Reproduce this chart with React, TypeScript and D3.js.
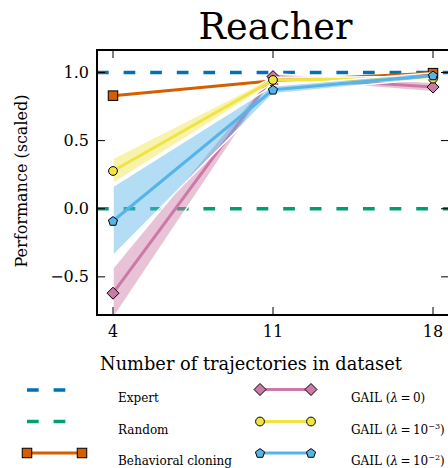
import React from "react";
import * as d3 from "d3";

const xsVals = [4, 11, 18];
const xTicks = [4, 11, 18];
const yTicks = [-0.5, 0.0, 0.5, 1.0];
const expertVal = 1.0;
const randomVal = 0.0;
const bcVals = [0.83, 0.94, 0.995];
const gail0Vals = [-0.62, 0.97, 0.893];
const gail0Err = [0.185, 0.02, 0.035];
const gail3Vals = [0.277, 0.945, 0.955];
const gail3Err = [0.092, 0.02, 0.015];
const gail2Vals = [-0.09, 0.873, 0.978];
const gail2Err = [0.255, 0.03, 0.02];

const W = 448, H = 468;
const L = 97, R = 449, T = 50, B = 315;
const FONT = "'DejaVu Serif', serif";

const C_EXP = "#0072B2";
const C_RAND = "#009E73";
const C_BC = "#D55E00";
const C_G0 = "#CC79A7";
const C_G3 = "#F0E442";
const C_G2 = "#56B4E9";

const x = d3.scaleLinear().domain([3.3, 18.7]).range([L, R]);
const y = d3.scaleLinear().domain([-0.78, 1.165]).range([B, T]);

const line = d3.line<[number, number]>().x(d => x(d[0])).y(d => y(d[1]));
const area = d3.area<[number, number, number]>().x(d => x(d[0])).y0(d => y(d[1] - d[2])).y1(d => y(d[1] + d[2]));

function Marker({ type, cx, cy, color }: { type: string; cx: number; cy: number; color: string }) {
  const st = { fill: color, stroke: "#000", strokeWidth: 1 };
  if (type === "s") return <rect x={cx - 4.75} y={cy - 4.75} width={9.5} height={9.5} {...st} />;
  if (type === "o") return <circle cx={cx} cy={cy} r={4.4} {...st} />;
  if (type === "D") return <path d={`M${cx},${cy - 6}L${cx + 6},${cy}L${cx},${cy + 6}L${cx - 6},${cy}Z`} {...st} />;
  const pts = d3.range(5).map(i => {
    const a = -Math.PI / 2 + (i * 2 * Math.PI) / 5;
    return [cx + 4.8 * Math.cos(a), cy + 4.8 * Math.sin(a) + 0.4];
  });
  return <path d={"M" + pts.map(p => p.join(",")).join("L") + "Z"} {...st} />;
}

function Series({ vals, err, color, marker }: { vals: number[]; err?: number[]; color: string; marker: string }) {
  const pts = xsVals.map((v, i) => [v, vals[i]] as [number, number]);
  return (
    <g>
      {err && (
        <path
          d={area(xsVals.map((v, i) => [v, vals[i], err[i]] as [number, number, number])) || ""}
          fill={color}
          fillOpacity={0.45}
          stroke="#fff"
          strokeWidth={1.5}
        />
      )}
      <path d={line(pts) || ""} fill="none" stroke={color} strokeWidth={3} />
      {pts.map((p, i) => (
        <Marker key={i} type={marker} cx={x(p[0])} cy={y(p[1])} color={color} />
      ))}
    </g>
  );
}

const dash = "11.7 14.9";

export default function App() {
  const legendText = { fontFamily: FONT, fontSize: 12, fill: "#000" } as const;
  return (
    <svg width={W} height={H} style={{ position: "absolute", left: 0, top: 0, background: "#fff" }}>
      <rect width={W} height={H} fill="#fff" />
      <defs>
        <clipPath id="plot">
          <rect x={L} y={T} width={R - L} height={B - T} />
        </clipPath>
      </defs>
      <text x={275.5} y={38.5} textAnchor="middle" fontFamily={FONT} fontSize={36.5}>Reacher</text>
      <g clipPath="url(#plot)">
        <line x1={L} x2={R} y1={y(expertVal)} y2={y(expertVal)} stroke={C_EXP} strokeWidth={3.5} strokeDasharray={dash} />
        <line x1={L} x2={R} y1={y(randomVal)} y2={y(randomVal)} stroke={C_RAND} strokeWidth={3.5} strokeDasharray={dash} />
        <Series vals={bcVals} color={C_BC} marker="s" />
        <Series vals={gail0Vals} err={gail0Err} color={C_G0} marker="D" />
        <Series vals={gail3Vals} err={gail3Err} color={C_G3} marker="o" />
        <Series vals={gail2Vals} err={gail2Err} color={C_G2} marker="p" />
      </g>
      {xTicks.map(t => (
        <g key={"xt" + t}>
          <line x1={x(t)} x2={x(t)} y1={B} y2={B - 8} stroke="#000" strokeWidth={1} />
          <line x1={x(t)} x2={x(t)} y1={T} y2={T + 8} stroke="#000" strokeWidth={1} />
          <text x={x(t)} y={337} textAnchor="middle" fontFamily={FONT} fontSize={16}>{t}</text>
        </g>
      ))}
      {yTicks.map(t => (
        <g key={"yt" + t}>
          <line x1={L} x2={L + 8} y1={y(t)} y2={y(t)} stroke="#000" strokeWidth={1} />
          <line x1={R} x2={R - 8} y1={y(t)} y2={y(t)} stroke="#000" strokeWidth={1} />
          <text x={89} y={y(t) + 5.5} textAnchor="end" fontFamily={FONT} fontSize={16}>
            {t < 0 ? "\u2212" + Math.abs(t).toFixed(1) : t.toFixed(1)}
          </text>
        </g>
      ))}
      <rect x={L} y={T} width={R - L} height={B - T} fill="none" stroke="#000" strokeWidth={2} />
      <text transform={`translate(27,181) rotate(-90)`} textAnchor="middle" fontFamily={FONT} fontSize={16}>
        Performance (scaled)
      </text>
      <text x={251} y={370} textAnchor="middle" fontFamily={FONT} fontSize={17.8}>Number of trajectories in dataset</text>
      <line x1={27} x2={78} y1={390} y2={390} stroke={C_EXP} strokeWidth={3.5} strokeDasharray={dash} />
      <text x={118} y={402} {...legendText}>Expert</text>
      <line x1={27} x2={78} y1={421.5} y2={421.5} stroke={C_RAND} strokeWidth={3.5} strokeDasharray={dash} />
      <text x={118} y={433.5} {...legendText}>Random</text>
      <line x1={27} x2={82} y1={453} y2={453} stroke={C_BC} strokeWidth={3} />
      <Marker type="s" cx={27} cy={453} color={C_BC} />
      <Marker type="s" cx={82} cy={453} color={C_BC} />
      <text x={118} y={465} {...legendText}>Behavioral cloning</text>
      <line x1={260} x2={311} y1={389.5} y2={389.5} stroke={C_G0} strokeWidth={3} />
      <Marker type="D" cx={260} cy={389.5} color={C_G0} />
      <Marker type="D" cx={311} cy={389.5} color={C_G0} />
      <text x={351} y={402} {...legendText}>
        GAIL (<tspan fontStyle="italic">λ</tspan>{"\u2009=\u20090"})
      </text>
      <line x1={260} x2={311} y1={421.5} y2={421.5} stroke={C_G3} strokeWidth={3} />
      <Marker type="o" cx={260} cy={421.5} color={C_G3} />
      <Marker type="o" cx={311} cy={421.5} color={C_G3} />
      <text x={351} y={433.5} {...legendText}>
        GAIL (<tspan fontStyle="italic">λ</tspan>{"\u2009=\u200910"}
        <tspan dy={-5} fontSize={8}>−3</tspan>
        <tspan dy={5}>)</tspan>
      </text>
      <line x1={260} x2={311} y1={453} y2={453} stroke={C_G2} strokeWidth={3} />
      <Marker type="p" cx={260} cy={453} color={C_G2} />
      <Marker type="p" cx={311} cy={453} color={C_G2} />
      <text x={351} y={465} {...legendText}>
        GAIL (<tspan fontStyle="italic">λ</tspan>{"\u2009=\u200910"}
        <tspan dy={-5} fontSize={8}>−2</tspan>
        <tspan dy={5}>)</tspan>
      </text>
    </svg>
  );
}
